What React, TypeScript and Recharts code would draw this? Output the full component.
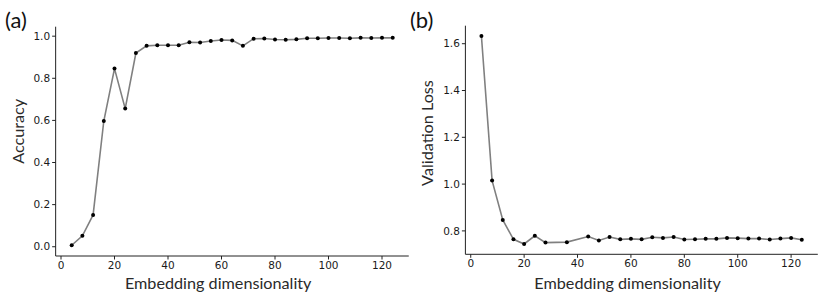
import React from 'react';
import { LineChart, Line, XAxis, YAxis } from 'recharts';

// embedding sizes tried (loss run has no entries at 32 and 40)
const dims = [4, 8, 12, 16, 20, 24, 28, 32, 36, 40, 44, 48, 52, 56, 60, 64, 68, 72, 76, 80, 84, 88, 92, 96, 100, 104, 108, 112, 116, 120, 124];
const accuracy = [0.007, 0.052, 0.151, 0.597, 0.846, 0.656, 0.92, 0.954, 0.957, 0.957, 0.957, 0.971, 0.97, 0.977, 0.982, 0.98, 0.954, 0.988, 0.989, 0.984, 0.983, 0.985, 0.99, 0.99, 0.991, 0.991, 0.99, 0.992, 0.991, 0.992, 0.992];

const lossDims = [4, 8, 12, 16, 20, 24, 28, 36, 44, 48, 52, 56, 60, 64, 68, 72, 76, 80, 84, 88, 92, 96, 100, 104, 108, 112, 116, 120, 124];
const valLoss = [1.633, 1.015, 0.847, 0.764, 0.744, 0.779, 0.75, 0.752, 0.776, 0.759, 0.774, 0.764, 0.766, 0.764, 0.773, 0.77, 0.774, 0.763, 0.764, 0.766, 0.766, 0.77, 0.769, 0.767, 0.767, 0.763, 0.767, 0.77, 0.762];

const xTicks = [0, 20, 40, 60, 80, 100, 120];
const accTicks = [0, 0.2, 0.4, 0.6, 0.8, 1.0];
const lossTicks = [0.8, 1.0, 1.2, 1.4, 1.6];

const accData = dims.map((d, i) => ({ dim: d, value: accuracy[i] }));
const lossData = lossDims.map((d, i) => ({ dim: d, value: valLoss[i] }));

const tickStyle = { fontFamily: 'DejaVu Sans', fontSize: 10.5, fill: '#1a1a1a' };
const titleFont = 'Lato';
const axisColor = '#222';

const XTitle = (shift: number) => (props: any) => {
  const { viewBox } = props;
  const x = viewBox.x + viewBox.width / 2 + shift;
  return (
    <text x={x} y={289} textAnchor="middle" fontFamily={titleFont} fontSize={16.2} fill="#2a2a2a">
      Embedding dimensionality
    </text>
  );
};

const YTitle = (text: string, x: number, shift: number) => (props: any) => {
  const { viewBox } = props;
  const y = viewBox.y + viewBox.height / 2 + shift;
  return (
    <text x={x} y={y} transform={`rotate(-90, ${x}, ${y})`} textAnchor="middle" dominantBaseline="central" fontFamily={titleFont} fontSize={16.2} fill="#2a2a2a">
      {text}
    </text>
  );
};

function Panel({ data, yDomain, yTicks, yTitle, titleX, titleShift, margin, axisH }: any) {
  return (
    <LineChart width={margin.w} height={303} data={data} margin={{ top: margin.top, right: margin.right, left: 0, bottom: 0 }}>
      <XAxis
        dataKey="dim"
        type="number"
        domain={[-2, 130]}
        ticks={xTicks}
        height={axisH}
        tick={tickStyle}
        tickSize={3.5}
        tickMargin={2}
        stroke={axisColor}
        label={{ content: XTitle(-14) }}
      />
      <YAxis
        type="number"
        domain={yDomain}
        ticks={yTicks}
        allowDataOverflow
        width={margin.left}
        tick={tickStyle}
        tickSize={3.5}
        tickMargin={2}
        stroke={axisColor}
        tickFormatter={(v: number) => v.toFixed(1)}
        label={{ content: YTitle(yTitle, titleX, titleShift) }}
      />
      <Line
        dataKey="value"
        stroke="#808080"
        strokeWidth={1.6}
        dot={{ r: 2, fill: '#000', stroke: 'none' }}
        activeDot={false}
        isAnimationActive={false}
      />
    </LineChart>
  );
}

const panelLabel: React.CSSProperties = { position: 'absolute', fontFamily: titleFont, fontSize: 22, color: '#111', lineHeight: 1 };

export default function App() {
  return (
    <div style={{ position: 'absolute', left: 0, top: 0, width: 831, height: 303, background: '#fff' }}>
      <div style={{ position: 'absolute', left: 0, top: 0 }}>
        <Panel
          data={accData}
          yDomain={[-0.044, 1.045]}
          yTicks={accTicks}
          yTitle="Accuracy"
          titleX={18}
          titleShift={-10}
          margin={{ w: 415, top: 26.7, right: 6.25, left: 55.65 }}
          axisH={47}
        />
      </div>
      <div style={{ position: 'absolute', left: 410, top: 0 }}>
        <Panel
          data={lossData}
          yDomain={[0.7, 1.677]}
          yTicks={lossTicks}
          yTitle="Validation Loss"
          titleX={16}
          titleShift={-7}
          margin={{ w: 421, top: 25.7, right: 13.2, left: 55.4 }}
          axisH={48.7}
        />
      </div>
      <div style={{ ...panelLabel, left: 5, top: 9 }}>(a)</div>
      <div style={{ ...panelLabel, left: 410, top: 9 }}>(b)</div>
    </div>
  );
}
